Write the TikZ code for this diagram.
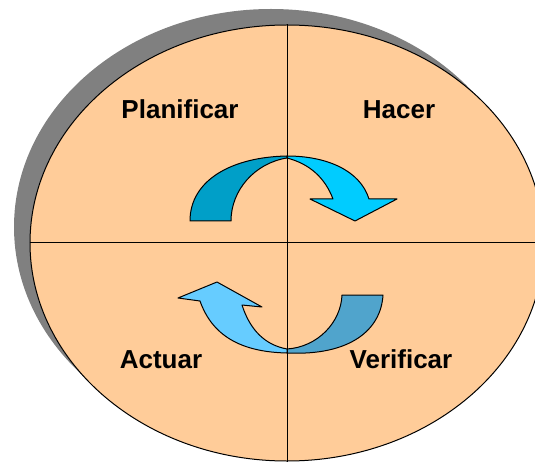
\documentclass[tikz,border=0pt]{standalone}
\usepackage{fontspec}
\setmainfont{Liberation Sans}
\usetikzlibrary{shapes.geometric}

\definecolor{durazno}{HTML}{FFCC99}
\definecolor{sombra}{HTML}{808080}
\definecolor{azulosc}{HTML}{009FC8}
\definecolor{celeste}{HTML}{00CCFF}
\definecolor{azulcla}{HTML}{66CCFF}
\definecolor{azulmed}{HTML}{50A4CC}

\begin{document}
\begin{tikzpicture}[x=1pt, y=-1pt,
	etiqueta/.style={font=\bfseries\fontsize{26}{30}\selectfont, anchor=base, inner sep=0pt},
	flecha/.style={draw=black, line width=1pt, line join=round}]
		
		% 1. Marco de la figura (la elipse queda cortada a la derecha y abajo)
		\useasboundingbox (0,0) rectangle (535,462);
		\clip (0,0) rectangle (535,462);
		
		% 2. Sombra gris y elipse color durazno
		\fill[sombra] (271,227) ellipse [x radius=257, y radius=218];
		\node[ellipse, draw, line width=1pt, fill=durazno, minimum width=514pt, minimum height=436pt, inner sep=0pt] (ciclo) at (287,243) {};
		
		% 3. Flechas de arriba: Planificar -> Hacer
		\filldraw[flecha, fill=azulosc] (190,221) .. controls (190,180) and (232,157) .. (287,156)
		-- (287,158) .. controls (255,163) and (231,190) .. (231,221) -- cycle;
		\filldraw[flecha, fill=celeste] (287,156) .. controls (326,156) and (360,170) .. (369,199)
		-- (397,199) -- (355,221) -- (310,199) -- (333,199)
		.. controls (325,178) and (310,164) .. (287,158) -- cycle;
		
		% 4. Flechas de abajo: Verificar -> Actuar
		\filldraw[flecha, fill=azulmed] (342,295) -- (383,295)
		.. controls (381,330) and (350,356) .. (287,353)
		-- (287,349) .. controls (318,347) and (341,322) .. (342,295) -- cycle;
		\filldraw[flecha, fill=azulcla] (287,353) .. controls (240,352) and (212,335) .. (200,301)
		-- (178,298) -- (217,282) -- (262,307) -- (242,305)
		.. controls (250,330) and (265,345) .. (287,349) -- cycle;
		
		% 5. Ejes que dividen la elipse en cuatro
		\draw[line width=1pt] (ciclo.north) -- (287,462);
		\draw[line width=1pt] (ciclo.west) -- (ciclo.east);
		
		% 6. Etiquetas de cada cuadrante
		\node[etiqueta] (plan) at (180,119) {Planificar};
		\node[etiqueta] (hacer) at (399,119) {Hacer};
		\node[etiqueta] (actuar) at (161,368) {Actuar};
		\node[etiqueta] (verif) at (401,368) {Verificar};
		
	\end{tikzpicture}
\end{document}
